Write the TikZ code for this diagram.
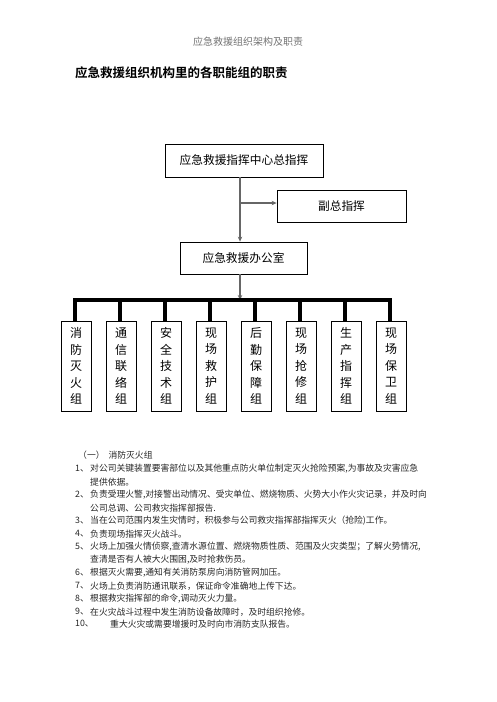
\documentclass[tikz,border=0pt]{standalone}
\usepackage{fontspec}
\newfontfamily\cjk{Noto Sans CJK SC}
\newfontfamily\cjkb{Noto Sans CJK SC Bold}
\usetikzlibrary{arrows.meta}
\begin{document}
\begin{tikzpicture}[x=1pt,y=-1pt,
  box/.style={draw=black,line width=0.8pt,inner sep=0pt,font=\cjk\fontsize{11.7}{14}\selectfont},
  grp/.style={draw=black,line width=0.8pt,minimum width=30pt,minimum height=90pt,inner sep=0pt,align=center,font=\cjk\fontsize{12}{16.5}\selectfont},
  conn/.style={draw=black!60,line width=1.3pt},
  arr/.style={conn,-{Stealth[length=5pt,width=4.5pt]}},
  bus/.style={draw=black,line width=3.5pt},
  txt/.style={anchor=west,inner sep=0pt,text=black!85,font=\cjk\fontsize{8.8}{10}\selectfont},
]
\useasboundingbox (0,0) rectangle (496,702);
\node[inner sep=0pt,text=black!55,font=\cjk\fontsize{10}{12}\selectfont] (hdr) at (248,42) {应急救援组织架构及职责};
\node[anchor=west,inner sep=0pt,font=\cjkb\fontsize{12.5}{14}\selectfont] (title) at (75,73) {应急救援组织机构里的各职能组的职责};

\node[box,minimum width=158pt,minimum height=33pt] (top) at (244,160.5) {应急救援指挥中心总指挥};
\node[box,minimum width=129pt,minimum height=32pt] (vice) at (341.5,206) {副总指挥};
\node[box,minimum width=127pt,minimum height=32pt] (off) at (243.5,258) {应急救援办公室};

\coordinate (br) at (240,203);
\draw[conn] (top.south -| br) -- (br);
\draw[arr] (br) -- (vice.west |- br);
\draw[arr] (br) -- (off.north -| br);

\coordinate (busc) at (240,300);
\coordinate (busl) at (75,300);
\coordinate (busr) at (390,300);
\draw[arr] (off.south -| busc) -- (busc);
\draw[bus,line cap=rect] (busl) -- (busr);

\foreach \i/\t in {0/{消\\防\\灭\\火\\组},1/{通\\信\\联\\络\\组},2/{安\\全\\技\\术\\组},3/{现\\场\\救\\护\\组},4/{后\\勤\\保\\障\\组},5/{现\\场\\抢\\修\\组},6/{生\\产\\指\\挥\\组},7/{现\\场\\保\\卫\\组}}{
  \node[grp] (g\i) at (76+45*\i,366) {\t};
  \coordinate (d\i) at (75+45*\i,300);
  \draw[bus] (d\i) -- (d\i |- g\i.north);
}

\node[txt] (h1) at (78,455) {（一）\hspace{4pt}消防灭火组};
\node[txt] (n1) at (75,469) {1、};
\node[txt] (t1) at (90,469) {对公司关键装置要害部位以及其他重点防火单位制定灭火抢险预案,为事故及灾害应急};
\node[txt] (t1b) at (90,482) {提供依据。};
\node[txt] (n2) at (75,495) {2、};
\node[txt] (t2) at (90,495) {负责受理火警,对接警出动情况、受灾单位、燃烧物质、火势大小作火灾记录，并及时向};
\node[txt] (t2b) at (90,508) {公司总调、公司救灾指挥部报告.};
\node[txt] (n3) at (75,521) {3、};
\node[txt] (t3) at (90,521) {当在公司范围内发生灾情时，积极参与公司救灾指挥部指挥灭火（抢险)工作。};
\node[txt] (n4) at (75,534) {4、};
\node[txt] (t4) at (90,534) {负责现场指挥灭火战斗。};
\node[txt] (n5) at (75,547) {5、};
\node[txt] (t5) at (90,547) {火场上加强火情侦察,查清水源位置、燃烧物质性质、范围及火灾类型；了解火势情况,};
\node[txt] (t5b) at (90,560) {查清是否有人被大火围困,及时抢救伤员。};
\node[txt] (n6) at (75,573) {6、};
\node[txt] (t6) at (90,573) {根据灭火需要,通知有关消防泵房向消防管网加压。};
\node[txt] (n7) at (75,586) {7、};
\node[txt] (t7) at (90,586) {火场上负责消防通讯联系，保证命令准确地上传下达。};
\node[txt] (n8) at (75,599) {8、};
\node[txt] (t8) at (90,599) {根据救灾指挥部的命令,调动灭火力量。};
\node[txt] (n9) at (75,612) {9、};
\node[txt] (t9) at (90,612) {在火灾战斗过程中发生消防设备故障时，及时组织抢修。};
\node[txt] (n10) at (75,624) {10、};
\node[txt] (t10) at (110,624) {重大火灾或需要增援时及时向市消防支队报告。};
\end{tikzpicture}
\end{document}
